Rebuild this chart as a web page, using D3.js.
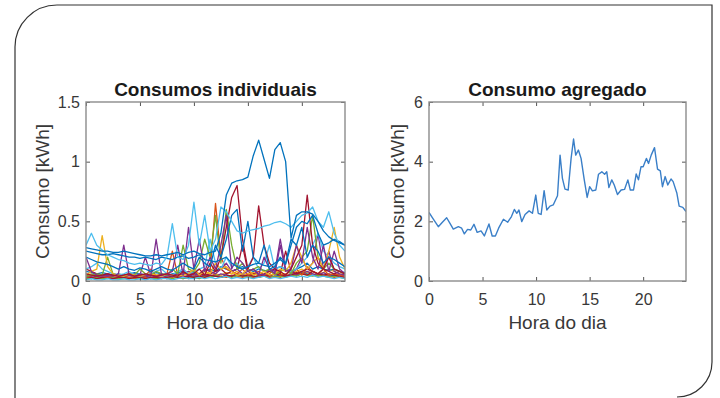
<!DOCTYPE html>
<html>
<head>
<meta charset="utf-8">
<script src="https://cdn.jsdelivr.net/npm/d3@7"></script>
<style>
  body { margin: 0; background: #fff; }
  svg { display: block; font-family: "Liberation Sans", Arial, Helvetica, sans-serif; }
</style>
</head>
<body>
<svg id="chart" width="720" height="398"></svg>
<script>
// time grid of the individual series (half hours)
const halfHours = [0,0.5,1,1.5,2,2.5,3,3.5,4,4.5,5,5.5,6,6.5,7,7.5,8,8.5,9,9.5,10,10.5,11,11.5,12,
  12.5,13,13.5,14,14.5,15,15.5,16,16.5,17,17.5,18,18.5,19,19.5,20,20.5,21,21.5,22,22.5,23,23.5,24];

const xTicks = [0, 5, 10, 15, 20];
const leftYTicks = [0, 0.5, 1, 1.5];
const rightYTicks = [0, 2, 4, 6];

// individual households, kWh
const house01 = [0.03,0.02,0.03,0.02,0.03,0.02,0.02,0.03,0.02,0.03,0.02,0.03,0.02,0.03,0.03,0.02,0.04,0.03,0.02,0.03,0.04,0.03,0.05,0.03,0.04,0.03,0.05,0.04,0.03,0.05,0.04,0.03,0.04,0.05,0.03,0.04,0.05,0.04,0.06,0.05,0.07,0.06,0.05,0.06,0.05,0.04,0.05,0.04,0.03];
const house02 = [0.02,0.03,0.02,0.02,0.03,0.02,0.02,0.02,0.03,0.02,0.02,0.03,0.02,0.02,0.03,0.02,0.03,0.04,0.03,0.02,0.03,0.05,0.03,0.04,0.06,0.04,0.03,0.05,0.04,0.03,0.04,0.03,0.05,0.04,0.03,0.04,0.03,0.05,0.04,0.06,0.08,0.05,0.06,0.04,0.05,0.04,0.03,0.04,0.03];
const house03 = [0.05,0.06,0.05,0.04,0.05,0.04,0.05,0.04,0.05,0.04,0.04,0.05,0.04,0.05,0.06,0.05,0.04,0.05,0.06,0.05,0.07,0.06,0.05,0.08,0.06,0.05,0.07,0.06,0.08,0.05,0.06,0.07,0.05,0.06,0.08,0.06,0.07,0.05,0.06,0.08,0.1,0.07,0.08,0.06,0.07,0.1,0.08,0.06,0.05];
const house04 = [0.04,0.03,0.04,0.03,0.04,0.03,0.03,0.04,0.03,0.04,0.03,0.04,0.03,0.04,0.03,0.04,0.05,0.04,0.03,0.05,0.04,0.06,0.04,0.05,0.04,0.06,0.05,0.04,0.06,0.05,0.04,0.05,0.06,0.04,0.05,0.06,0.05,0.04,0.06,0.05,0.06,0.08,0.06,0.05,0.07,0.05,0.06,0.05,0.04];
const house05 = [0.02,0.02,0.03,0.02,0.02,0.03,0.02,0.02,0.02,0.03,0.02,0.02,0.03,0.02,0.02,0.03,0.02,0.03,0.02,0.04,0.03,0.02,0.04,0.03,0.05,0.03,0.04,0.03,0.05,0.04,0.03,0.04,0.03,0.04,0.05,0.03,0.04,0.03,0.05,0.04,0.06,0.05,0.04,0.05,0.04,0.03,0.04,0.03,0.02];
const house06 = [0.03,0.03,0.02,0.03,0.03,0.02,0.03,0.03,0.02,0.03,0.03,0.02,0.03,0.03,0.02,0.03,0.04,0.03,0.03,0.04,0.03,0.04,0.03,0.05,0.04,0.03,0.05,0.04,0.06,0.04,0.05,0.04,0.03,0.05,0.04,0.06,0.05,0.04,0.05,0.07,0.06,0.05,0.08,0.06,0.05,0.06,0.05,0.04,0.03];
const house07 = [0.01,0.02,0.01,0.01,0.02,0.01,0.01,0.02,0.01,0.01,0.02,0.01,0.02,0.01,0.02,0.02,0.01,0.02,0.03,0.02,0.02,0.03,0.02,0.03,0.02,0.03,0.04,0.02,0.03,0.02,0.03,0.02,0.03,0.04,0.02,0.03,0.02,0.03,0.04,0.03,0.04,0.03,0.05,0.03,0.04,0.03,0.02,0.03,0.02];
const house08 = [0.08,0.07,0.06,0.07,0.06,0.05,0.06,0.05,0.06,0.07,0.06,0.05,0.06,0.07,0.06,0.05,0.06,0.07,0.08,0.06,0.07,0.06,0.08,0.1,0.08,0.12,0.1,0.08,0.1,0.12,0.1,0.08,0.1,0.09,0.08,0.1,0.12,0.1,0.08,0.1,0.12,0.15,0.1,0.12,0.1,0.09,0.1,0.08,0.07];
const house09 = [0.03,0.04,0.05,0.04,0.03,0.04,0.05,0.04,0.03,0.04,0.05,0.04,0.1,0.04,0.05,0.06,0.25,0.05,0.06,0.08,0.05,0.06,0.1,0.08,0.65,0.2,0.1,0.08,0.06,0.1,0.05,0.06,0.08,0.05,0.06,0.1,0.05,0.06,0.08,0.1,0.05,0.12,0.08,0.06,0.1,0.05,0.06,0.05,0.04];
const house10 = [0.1,0.08,0.06,0.05,0.06,0.05,0.04,0.05,0.06,0.05,0.04,0.06,0.05,0.04,0.05,0.06,0.05,0.06,0.05,0.06,0.08,0.06,0.05,0.06,0.08,0.1,0.06,0.08,0.1,0.3,0.08,0.06,0.05,0.06,0.08,0.1,0.06,0.25,0.08,0.06,0.08,0.1,0.08,0.06,0.1,0.08,0.06,0.08,0.06];
const house11 = [0.05,0.04,0.06,0.05,0.04,0.06,0.05,0.04,0.05,0.06,0.05,0.2,0.05,0.04,0.06,0.05,0.04,0.06,0.05,0.08,0.06,0.05,0.1,0.08,0.06,0.1,0.15,0.08,0.1,0.06,0.08,0.1,0.06,0.05,0.1,0.08,0.35,0.1,0.06,0.1,0.2,0.1,0.15,0.4,0.1,0.25,0.08,0.06,0.05];
const house12 = [0.1,0.12,0.15,0.1,0.08,0.06,0.05,0.06,0.08,0.05,0.06,0.05,0.06,0.08,0.1,0.06,0.05,0.08,0.1,0.06,0.08,0.1,0.12,0.35,0.15,0.1,0.2,0.12,0.15,0.1,0.12,0.2,0.1,0.15,0.3,0.1,0.12,0.1,0.08,0.1,0.15,0.2,0.3,0.4,0.25,0.2,0.15,0.12,0.1];
const house13 = [0.04,0.05,0.06,0.05,0.2,0.06,0.05,0.04,0.06,0.05,0.1,0.06,0.05,0.08,0.06,0.05,0.1,0.06,0.3,0.1,0.08,0.15,0.35,0.2,0.55,0.15,0.6,0.3,0.1,0.15,0.08,0.1,0.12,0.08,0.1,0.05,0.08,0.1,0.06,0.15,0.2,0.25,0.55,0.2,0.1,0.15,0.1,0.08,0.06];
const house14 = [0.05,0.08,0.1,0.38,0.12,0.06,0.05,0.04,0.06,0.05,0.04,0.05,0.06,0.05,0.04,0.06,0.05,0.04,0.05,0.06,0.1,0.05,0.08,0.06,0.15,0.1,0.12,0.08,0.05,0.06,0.1,0.05,0.06,0.08,0.05,0.06,0.1,0.08,0.15,0.3,0.2,0.1,0.15,0.2,0.1,0.25,0.45,0.2,0.1];
const house15 = [0.2,0.08,0.05,0.04,0.05,0.04,0.06,0.3,0.05,0.04,0.06,0.05,0.04,0.35,0.05,0.06,0.08,0.3,0.05,0.45,0.1,0.35,0.08,0.2,0.1,0.3,0.55,0.1,0.2,0.15,0.08,0.1,0.05,0.2,0.1,0.06,0.3,0.08,0.1,0.3,0.15,0.45,0.2,0.1,0.3,0.08,0.25,0.1,0.06];
const house16 = [0.06,0.05,0.04,0.05,0.06,0.05,0.04,0.05,0.06,0.04,0.05,0.06,0.05,0.04,0.05,0.06,0.05,0.04,0.08,0.05,0.06,0.1,0.05,0.15,0.08,0.2,0.45,0.7,0.8,0.35,0.1,0.2,0.63,0.3,0.15,0.1,0.08,0.05,0.1,0.2,0.3,0.72,0.3,0.15,0.1,0.2,0.1,0.08,0.06];
const house17 = [0.2,0.18,0.16,0.15,0.14,0.12,0.1,0.12,0.1,0.09,0.11,0.1,0.08,0.1,0.12,0.1,0.09,0.12,0.15,0.12,0.1,0.2,0.15,0.12,0.3,0.2,0.35,0.55,0.6,0.25,0.5,0.2,0.15,0.3,0.1,0.12,0.2,0.15,0.35,0.3,0.45,0.2,0.3,0.25,0.15,0.2,0.18,0.15,0.12];
const house18 = [0.25,0.24,0.23,0.22,0.22,0.23,0.22,0.21,0.2,0.2,0.19,0.2,0.19,0.18,0.2,0.19,0.18,0.2,0.21,0.19,0.2,0.22,0.18,0.17,0.16,0.18,0.2,0.15,0.12,0.1,0.12,0.14,0.15,0.13,0.12,0.15,0.18,0.14,0.3,0.45,0.5,0.48,0.55,0.4,0.3,0.32,0.35,0.33,0.3];
const house19 = [0.3,0.4,0.3,0.26,0.22,0.2,0.18,0.17,0.15,0.14,0.15,0.14,0.13,0.15,0.14,0.2,0.48,0.2,0.18,0.3,0.66,0.3,0.55,0.25,0.35,0.62,0.58,0.5,0.42,0.4,0.42,0.43,0.44,0.46,0.47,0.49,0.5,0.48,0.45,0.5,0.55,0.57,0.62,0.5,0.45,0.58,0.4,0.3,0.25];
const house20 = [0.28,0.27,0.26,0.25,0.25,0.24,0.24,0.25,0.24,0.23,0.22,0.21,0.21,0.22,0.21,0.22,0.23,0.24,0.22,0.24,0.25,0.23,0.22,0.24,0.25,0.4,0.72,0.82,0.84,0.85,0.87,1.05,1.18,1.02,0.86,1.1,1.16,1.0,0.36,0.55,0.58,0.58,0.56,0.5,0.42,0.37,0.34,0.32,0.3];

const houses = [house01, house02, house03, house04, house05, house06, house07, house08, house09, house10,
  house11, house12, house13, house14, house15, house16, house17, house18, house19, house20];
const houseColors = ["#0072BD", "#D95319", "#EDB120", "#7E2F8E", "#77AC30", "#A2142F", "#4DBEEE", "#0072BD",
  "#D95319", "#A2142F", "#7E2F8E", "#4DBEEE", "#77AC30", "#EDB120", "#7E2F8E", "#A2142F", "#0072BD",
  "#0072BD", "#4DBEEE", "#0072BD"];

// aggregated consumption, kWh
const aggHours = [0,0.25,0.56,0.87,1.25,1.65,1.96,2.27,2.74,3.05,3.3,3.6,3.9,4.2,4.5,4.86,5.17,5.6,5.9,6.2,
  6.5,6.95,7.35,7.7,7.97,8.2,8.4,8.66,8.97,9.35,9.66,9.97,10.2,10.47,10.75,11.0,11.3,11.6,12.0,12.24,
  12.46,12.7,13.0,13.27,13.5,13.7,13.95,14.2,14.5,14.77,15.0,15.26,15.58,15.83,16.14,16.4,16.6,16.8,17.07,17.3,
  17.6,17.94,18.26,18.57,18.8,19.1,19.35,19.56,19.8,20.0,20.3,20.5,20.75,21.06,21.34,21.6,21.8,22.05,22.3,22.6,
  22.8,23.15,23.36,23.7,24];
const aggValues = [2.3,2.16,1.99,1.82,1.97,2.12,1.93,1.74,1.82,1.77,1.58,1.73,1.71,1.9,1.63,1.68,1.51,1.91,1.51,1.51,
  1.77,2.07,1.97,2.16,2.4,2.27,2.38,1.99,2.23,2.35,2.27,2.88,2.27,2.23,3.03,2.38,2.51,2.55,2.86,4.22,
  3.44,3.08,3.05,4.11,4.76,4.22,4.39,4.11,3.39,2.8,3.16,3.02,3.05,3.58,3.66,3.58,3.66,3.13,3.39,3.22,
  2.9,3.05,3.07,3.39,3.05,3.05,3.59,3.39,3.83,3.83,4.11,3.94,4.22,4.47,3.75,3.69,3.16,3.5,3.22,3.42,
  3.33,2.94,2.51,2.47,2.33];

const svg = d3.select("#chart");

// outer frame, rounded top-left and bottom-right
svg.append("path")
  .attr("d", "M15,398 L15,47 A42,42 0 0 1 57,5 L712,5 L712,362 A35,35 0 0 1 677,397")
  .attr("fill", "none")
  .attr("stroke", "#333")
  .attr("stroke-width", 1.2);

function panel(id, left, right, yMax, yTicks, title, ylabX) {
  const top = 102, bottom = 281;
  const x = d3.scaleLinear().domain([0, 24]).range([left, right]);
  const y = d3.scaleLinear().domain([0, yMax]).range([bottom, top]);
  const g = svg.append("g");

  g.append("clipPath").attr("id", id)
    .append("rect").attr("x", left).attr("y", top).attr("width", right - left).attr("height", bottom - top);

  const plot = g.append("g").attr("clip-path", `url(#${id})`);

  const axes = [
    [d3.axisBottom(x).tickValues(xTicks).tickPadding(13), `translate(0,${bottom})`, true],
    [d3.axisTop(x).tickValues(xTicks), `translate(0,${top})`, false],
    [d3.axisLeft(y).tickValues(yTicks).tickPadding(6), `translate(${left},0)`, true],
    [d3.axisRight(y).tickValues(yTicks), `translate(${right},0)`, false]
  ];
  axes.forEach(([ax, tr, lab]) => {
    const a = g.append("g").attr("transform", tr)
      .call(ax.tickSizeInner(-4).tickSizeOuter(0).tickFormat(lab ? (d => String(d)) : ""));
    a.select(".domain").remove();
    a.selectAll(".tick line").attr("stroke", "#555");
    a.attr("font-family", null).attr("font-size", 16);
    a.selectAll("text").attr("fill", "#383838");
  });

  g.append("rect")
    .attr("x", left).attr("y", top).attr("width", right - left).attr("height", bottom - top)
    .attr("fill", "none").attr("stroke", "#8c8c8c").attr("stroke-width", 1.4);

  g.append("text")
    .attr("x", (left + right) / 2).attr("y", 96)
    .attr("text-anchor", "middle").attr("font-weight", "bold").attr("font-size", 19)
    .attr("fill", "#1a1a1a").text(title);

  g.append("text")
    .attr("x", (left + right) / 2).attr("y", 329)
    .attr("text-anchor", "middle").attr("font-size", 19)
    .attr("fill", "#383838").text("Hora do dia");

  g.append("text")
    .attr("transform", `translate(${ylabX},${(top + bottom) / 2}) rotate(-90)`)
    .attr("text-anchor", "middle").attr("font-size", 19)
    .attr("fill", "#383838").text("Consumo [kWh]");

  return { x, y, plot };
}

// left: individual consumption
const p1 = panel("clipL", 86, 345, 1.5, leftYTicks, "Consumos individuais", 49);
const line1 = d3.line().x((d, i) => p1.x(halfHours[i])).y(d => p1.y(d));
p1.plot.selectAll("path.house")
  .data(houses)
  .enter()
  .append("path")
    .attr("class", "house")
    .attr("d", d => line1(d))
    .attr("fill", "none")
    .attr("stroke", (d, i) => houseColors[i])
    .attr("stroke-width", 1.3)
    .attr("stroke-linejoin", "round");

// right: aggregated consumption
const p2 = panel("clipR", 429, 686, 6, rightYTicks, "Consumo agregado", 404);
const line2 = d3.line().x((d, i) => p2.x(aggHours[i])).y(d => p2.y(d));
p2.plot.append("path")
  .datum(aggValues)
  .attr("d", line2)
  .attr("fill", "none")
  .attr("stroke", "#3a7fc8")
  .attr("stroke-width", 1.4)
  .attr("stroke-linejoin", "round");
</script>
</body>
</html>
